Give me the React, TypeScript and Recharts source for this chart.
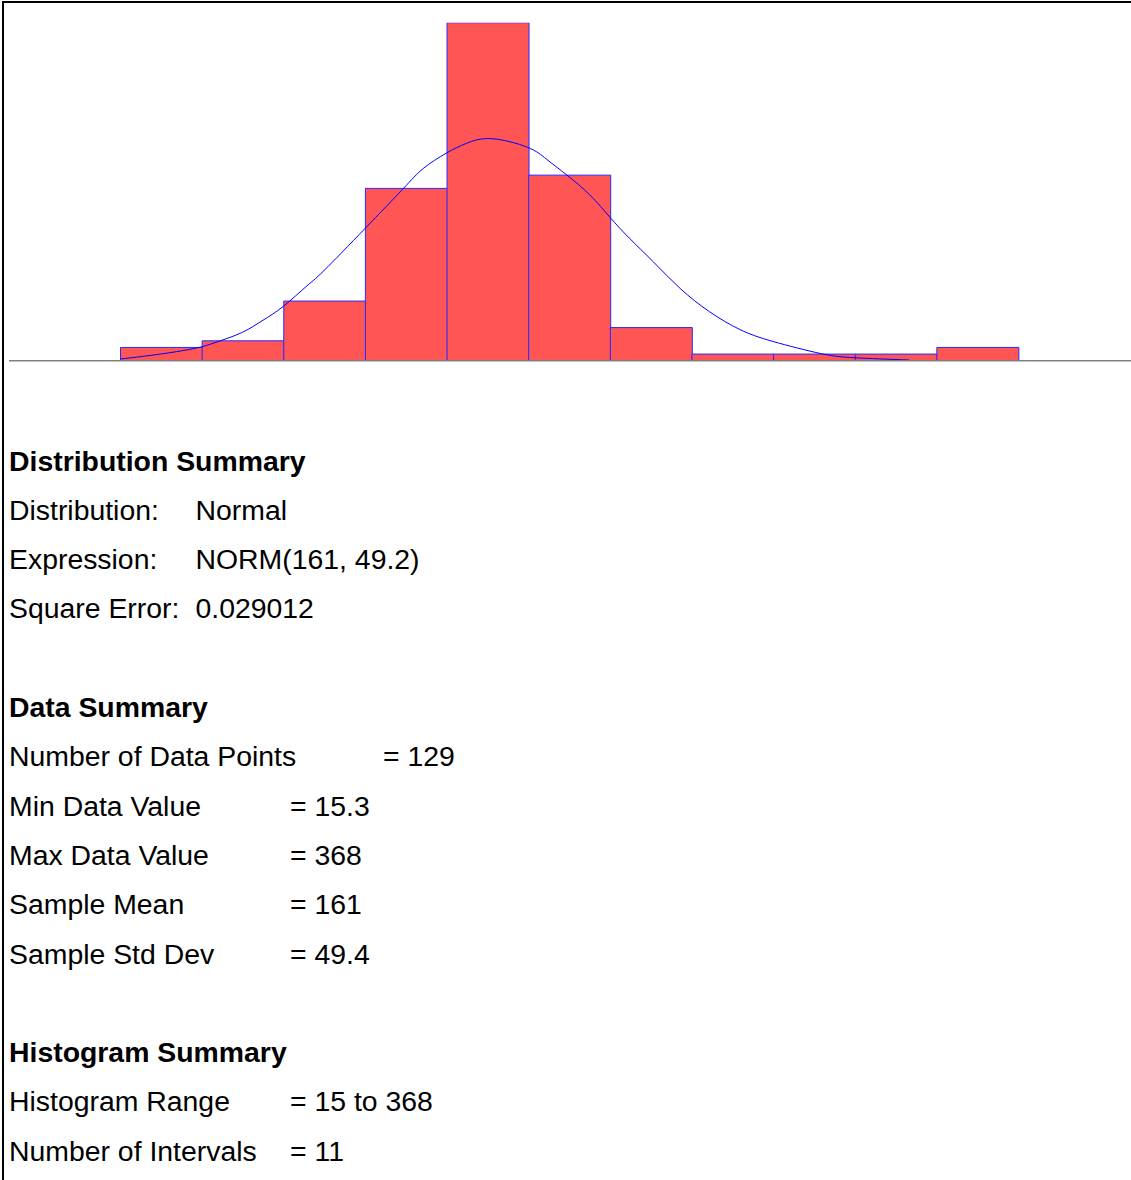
import React from "react";
import { ComposedChart, Bar, Line, XAxis, YAxis } from "recharts";

// histogram: 11 intervals from 15 to 368 (lower edge of each bin)
const BIN_LABELS = ["15", "47.1", "79.2", "111.3", "143.4", "175.5", "207.5", "239.6", "271.7", "303.8", "335.9"];
const BIN_COUNTS = [2, 3, 9, 26, 51, 28, 5, 1, 1, 1, 2];

// fitted normal curve (x = data value, y = expected count)
const FIT_X = [15, 24, 37, 47, 54, 63, 71, 79, 88, 95, 111, 126, 134, 143, 151, 161, 175, 182.5, 190.5, 199.5, 207.5, 215, 224.5, 235, 246.5, 258.5, 271.5, 290, 303.5, 325];
const FIT_Y = [0.26, 0.66, 1.36, 2.11, 2.97, 4.3, 6.1, 8.2, 11.2, 13.6, 19.9, 25.9, 29.0, 31.3, 32.8, 33.5, 32.2, 30.4, 28.0, 25.0, 21.6, 18.5, 14.9, 10.9, 7.4, 4.7, 2.9, 1.1, 0.45, 0.1];

const DIST_ROWS = [
  ["Distribution:", "Normal"],
  ["Expression:", "NORM(161, 49.2)"],
  ["Square Error:", "0.029012"],
];
const DATA_ROWS = [
  ["Number of Data Points", "= 129"],
  ["Min Data Value", "= 15.3"],
  ["Max Data Value", "= 368"],
  ["Sample Mean", "= 161"],
  ["Sample Std Dev", "= 49.4"],
];
const HIST_ROWS = [
  ["Histogram Range", "= 15 to 368"],
  ["Number of Intervals", "= 11"],
];

const FONT = '"Liberation Sans", Arial, Helvetica, sans-serif';
const LINE_H = 49.3;
const TEXT_TOP = 436.5;
const LABEL_X = 9;

type TextLine = { label: string; value?: string; valueX?: number; bold?: boolean } | null;

function buildLines(): TextLine[] {
  const lines: TextLine[] = [];
  lines.push({ label: "Distribution Summary", bold: true });
  DIST_ROWS.forEach(([l, v]) => lines.push({ label: l, value: v, valueX: 195.5 }));
  lines.push(null);
  lines.push({ label: "Data Summary", bold: true });
  DATA_ROWS.forEach(([l, v], i) => lines.push({ label: l, value: v, valueX: i === 0 ? 383 : 290 }));
  lines.push(null);
  lines.push({ label: "Histogram Summary", bold: true });
  HIST_ROWS.forEach(([l, v]) => lines.push({ label: l, value: v, valueX: 290 }));
  return lines;
}

function Histogram() {
  const binData = BIN_LABELS.map((bin, i) => ({ bin, count: BIN_COUNTS[i] }));
  const fitData = FIT_X.map((x, i) => ({ x, fit: FIT_Y[i] }));
  const pad = { left: 111.5, right: 112.5 };
  return (
    <ComposedChart
      width={1131}
      height={370}
      data={binData}
      margin={{ top: 22.7, right: 0, bottom: 7.3, left: 9 }}
      barCategoryGap={0}
      barGap={0}
    >
      <XAxis
        xAxisId="bins"
        dataKey="bin"
        type="category"
        padding={pad}
        tick={false}
        tickLine={false}
        axisLine={{ stroke: "#808080", strokeWidth: 1.5 }}
        height={2}
      />
      <XAxis xAxisId="fit" dataKey="x" type="number" domain={[15, 368]} allowDataOverflow padding={pad} hide />
      <YAxis domain={[0, 51]} allowDataOverflow hide />
      <Bar
        xAxisId="bins"
        dataKey="count"
        fill="#FF5555"
        stroke="#2a2aff"
        strokeWidth={1}
        isAnimationActive={false}
      />
      <Line
        xAxisId="fit"
        data={fitData}
        dataKey="fit"
        type="natural"
        stroke="#0000ff"
        strokeWidth={1}
        dot={false}
        activeDot={false}
        isAnimationActive={false}
      />
    </ComposedChart>
  );
}

export default function App() {
  const lines = buildLines();
  return (
    <div
      style={{
        position: "absolute",
        left: 0,
        top: 0,
        width: 1131,
        height: 1180,
        overflow: "hidden",
        background: "#ffffff",
        fontFamily: FONT,
        color: "#000",
      }}
    >
      <div
        style={{
          position: "absolute",
          left: 2,
          top: 1,
          width: 1140,
          height: 1190,
          borderLeft: "2px solid #000",
          borderTop: "2px solid #000",
          boxSizing: "border-box",
        }}
      />
      <div style={{ position: "absolute", left: 0, top: 0 }}>
        <Histogram />
      </div>
      {lines.map((ln, i) =>
        ln ? (
          <div
            key={i}
            style={{
              position: "absolute",
              left: LABEL_X,
              top: TEXT_TOP + i * LINE_H,
              height: LINE_H,
              lineHeight: `${LINE_H}px`,
              fontSize: 28.4,
              fontWeight: ln.bold ? 700 : 400,
              whiteSpace: "nowrap",
              width: 1100,
            }}
          >
            <span>{ln.label}</span>
            {ln.value && (
              <span style={{ position: "absolute", left: (ln.valueX ?? 0) - LABEL_X, top: 0 }}>{ln.value}</span>
            )}
          </div>
        ) : null
      )}
    </div>
  );
}
